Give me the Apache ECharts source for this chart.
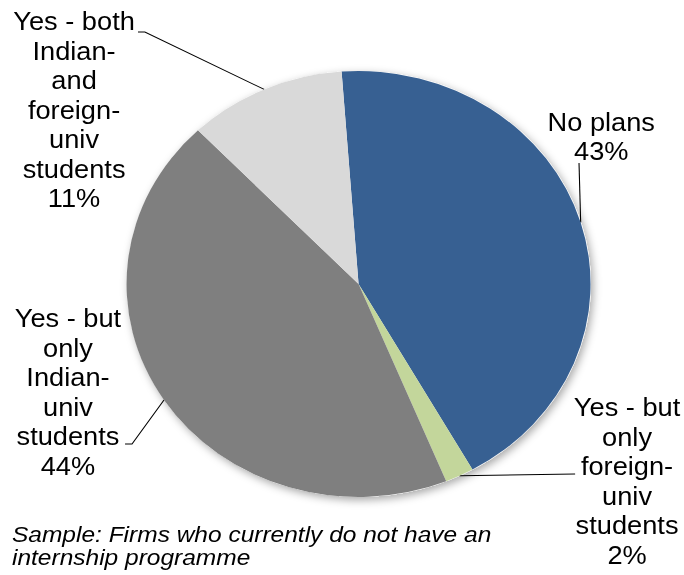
<!DOCTYPE html>
<html>
<head>
<meta charset="utf-8">
<script src="https://cdn.jsdelivr.net/npm/echarts@6/dist/echarts.min.js"></script>
<style>
  html, body { margin: 0; padding: 0; background: #fff; overflow: hidden; }
  /* the chart is laid out a little narrower and stretched sideways */
  #chart { width: 628px; height: 575px; transform: scaleX(1.0892); transform-origin: 0 0; }
</style>
</head>
<body>
<div id="chart"></div>
<script>
// Answers to "plans for an internship programme"
const categories = [
  'No plans',
  'Yes - but\nonly\nforeign-\nuniv\nstudents',
  'Yes - but\nonly\nIndian-\nuniv\nstudents',
  'Yes - both\nIndian-\nand\nforeign-\nuniv\nstudents'
];
const shares = [43, 2, 44, 11];
const sliceColors = ['#376092', '#C3D69B', '#7F7F7F', '#D9D9D9'];
const footnote = 'Sample: Firms who currently do not have an\ninternship programme';

// where each label block sits, and the bend points of its leader line
const labelSpots = [
  { x: 552, y: 137, line: [[531.6, 163]] },
  { x: 575.7, y: 481.5, line: [[528, 474]] },
  { x: 62.4, y: 392.5, line: [[121.2, 444], [114.8, 444]] },
  { x: 68, y: 110, line: [[133, 32], [126.7, 32]] }
];

const FONT = '"Liberation Sans", Arial, Helvetica, sans-serif';
const chart = echarts.init(document.getElementById('chart'), null, { renderer: 'svg' });

const total = shares.reduce((a, b) => a + b, 0);

chart.setOption({
  animation: false,
  backgroundColor: '#fff',
  series: [
    {
      // soft drop shadow behind the pie
      type: 'pie',
      silent: true,
      center: [329.2, 284],
      radius: 213,
      startAngle: 94.2,
      z: 1,
      label: { show: false },
      labelLine: { show: false },
      itemStyle: {
        color: '#fff',
        shadowBlur: 8,
        shadowColor: 'rgba(0,0,0,0.35)',
        shadowOffsetX: 2,
        shadowOffsetY: 3
      },
      data: [{ value: total, name: '' }]
    },
    {
      type: 'pie',
      center: [329.2, 284],
      radius: 213,
      startAngle: 94.2,
      clockwise: true,
      avoidLabelOverlap: false,
      z: 2,
      itemStyle: { borderWidth: 0 },
      label: {
        show: true,
        position: 'outside',
        fontFamily: FONT,
        fontSize: 25,
        lineHeight: 29.5,
        color: '#000',
        align: 'center',
        formatter: p => p.name + '\n' + Math.round(p.percent) + '%'
      },
      labelLine: {
        show: true,
        lineStyle: { color: '#000', width: 1 }
      },
      labelLayout: function (p) {
        const spot = labelSpots[p.dataIndex];
        const start = p.labelLinePoints ? p.labelLinePoints[0] : null;
        const out = { x: spot.x, y: spot.y, align: 'center', verticalAlign: 'middle' };
        if (start) out.labelLinePoints = [start].concat(spot.line);
        return out;
      },
      data: categories.map((name, i) => ({
        name: name,
        value: shares[i],
        itemStyle: { color: sliceColors[i] }
      }))
    }
  ],
  graphic: [
    {
      type: 'text',
      left: 11,
      top: 523,
      style: {
        text: footnote,
        font: 'italic 22.5px ' + FONT,
        lineHeight: 22.5,
        fill: '#000'
      }
    }
  ]
});
</script>
</body>
</html>
